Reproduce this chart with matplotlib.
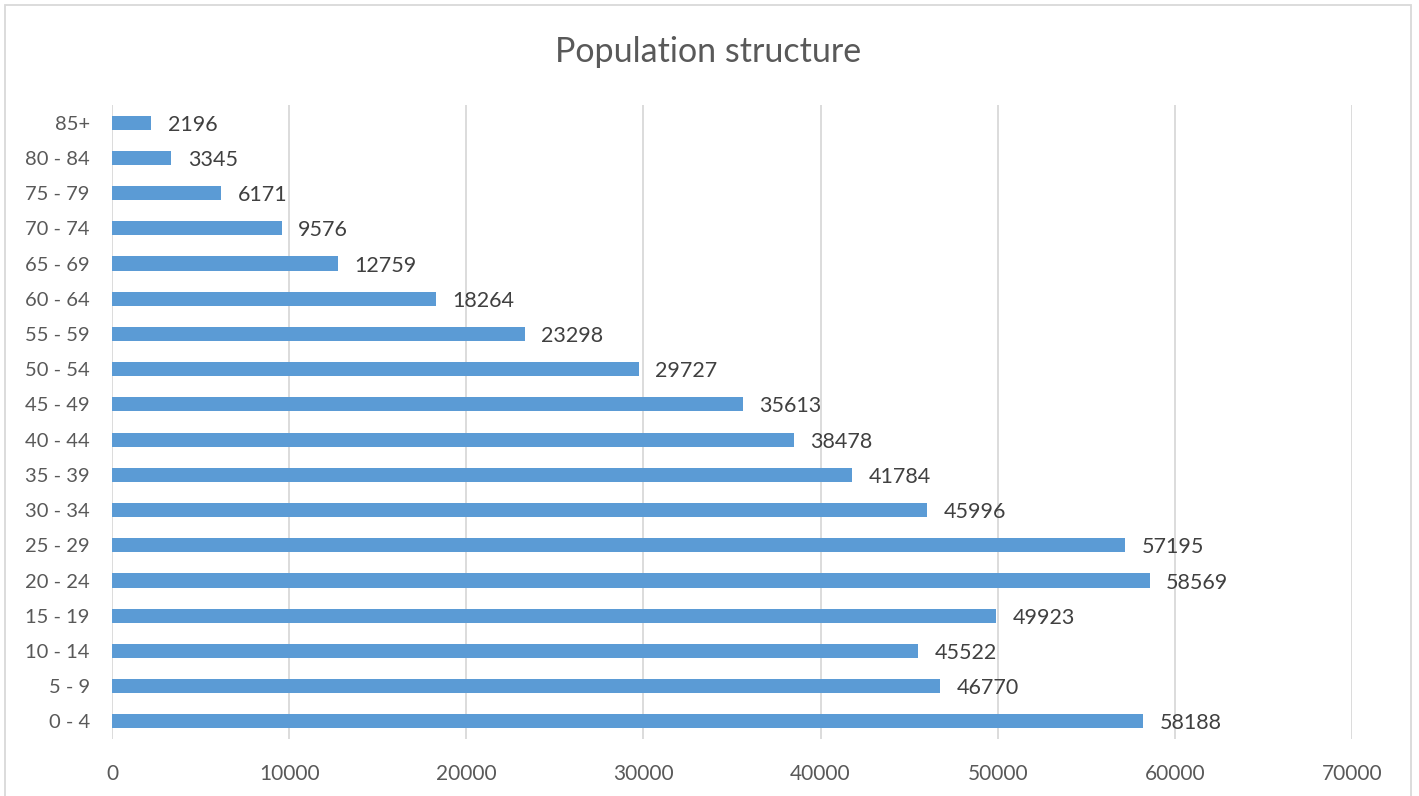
import matplotlib
matplotlib.use("Agg")
import matplotlib.pyplot as plt
from matplotlib.patches import Rectangle

categories = ["0 - 4", "5 - 9", "10 - 14", "15 - 19", "20 - 24", "25 - 29", "30 - 34",
              "35 - 39", "40 - 44", "45 - 49", "50 - 54", "55 - 59", "60 - 64",
              "65 - 69", "70 - 74", "75 - 79", "80 - 84", "85+"]
values = [58188, 46770, 45522, 49923, 58569, 57195, 45996, 41784, 38478, 35613,
          29727, 23298, 18264, 12759, 9576, 6171, 3345, 2196]
xticks = [0, 10000, 20000, 30000, 40000, 50000, 60000, 70000]

plt.rcParams['font.family'] = ['Lato', 'DejaVu Sans']

W, H = 1419, 796
fig = plt.figure(figsize=(W / 100, H / 100), dpi=100)
ax = fig.add_axes([112 / W, 1 - 739 / H, (1352 - 112) / W, (739 - 105) / H])

ypos = list(range(len(categories)))
ax.barh(ypos, values, height=0.4, color="#5B9BD5", zorder=3)
for y, v in zip(ypos, values):
    ax.annotate(str(v), (v, y), xytext=(12, -1.5), textcoords="offset points",
                va="center", ha="left", fontsize=15.5, color="#404040")

ax.set_xlim(0, 70000)
ax.set_ylim(-0.5, len(categories) - 0.5)
ax.set_yticks(ypos)
ax.set_yticklabels(categories, fontsize=14.5, color="#595959")
ax.set_xticks(xticks)
ax.set_xticklabels([str(t) for t in xticks], fontsize=15, color="#595959")
ax.tick_params(length=0)
ax.tick_params(axis="x", pad=18)
ax.tick_params(axis="y", pad=16)
ax.grid(axis="x", color="#D9D9D9", linewidth=1.3, zorder=0)
for s in ax.spines.values():
    s.set_visible(False)

fig.text(708 / W, 1 - 52 / H, "Population structure", ha="center", va="center",
         fontsize=24.5, color="#595959")

fig.patches.append(Rectangle((5 / W, -0.01), (1411 - 5) / W, 1 - 5 / H + 0.01,
                             transform=fig.transFigure, fill=False,
                             edgecolor="#D9D9D9", linewidth=1.3))

fig.savefig("out.png", dpi=100)
